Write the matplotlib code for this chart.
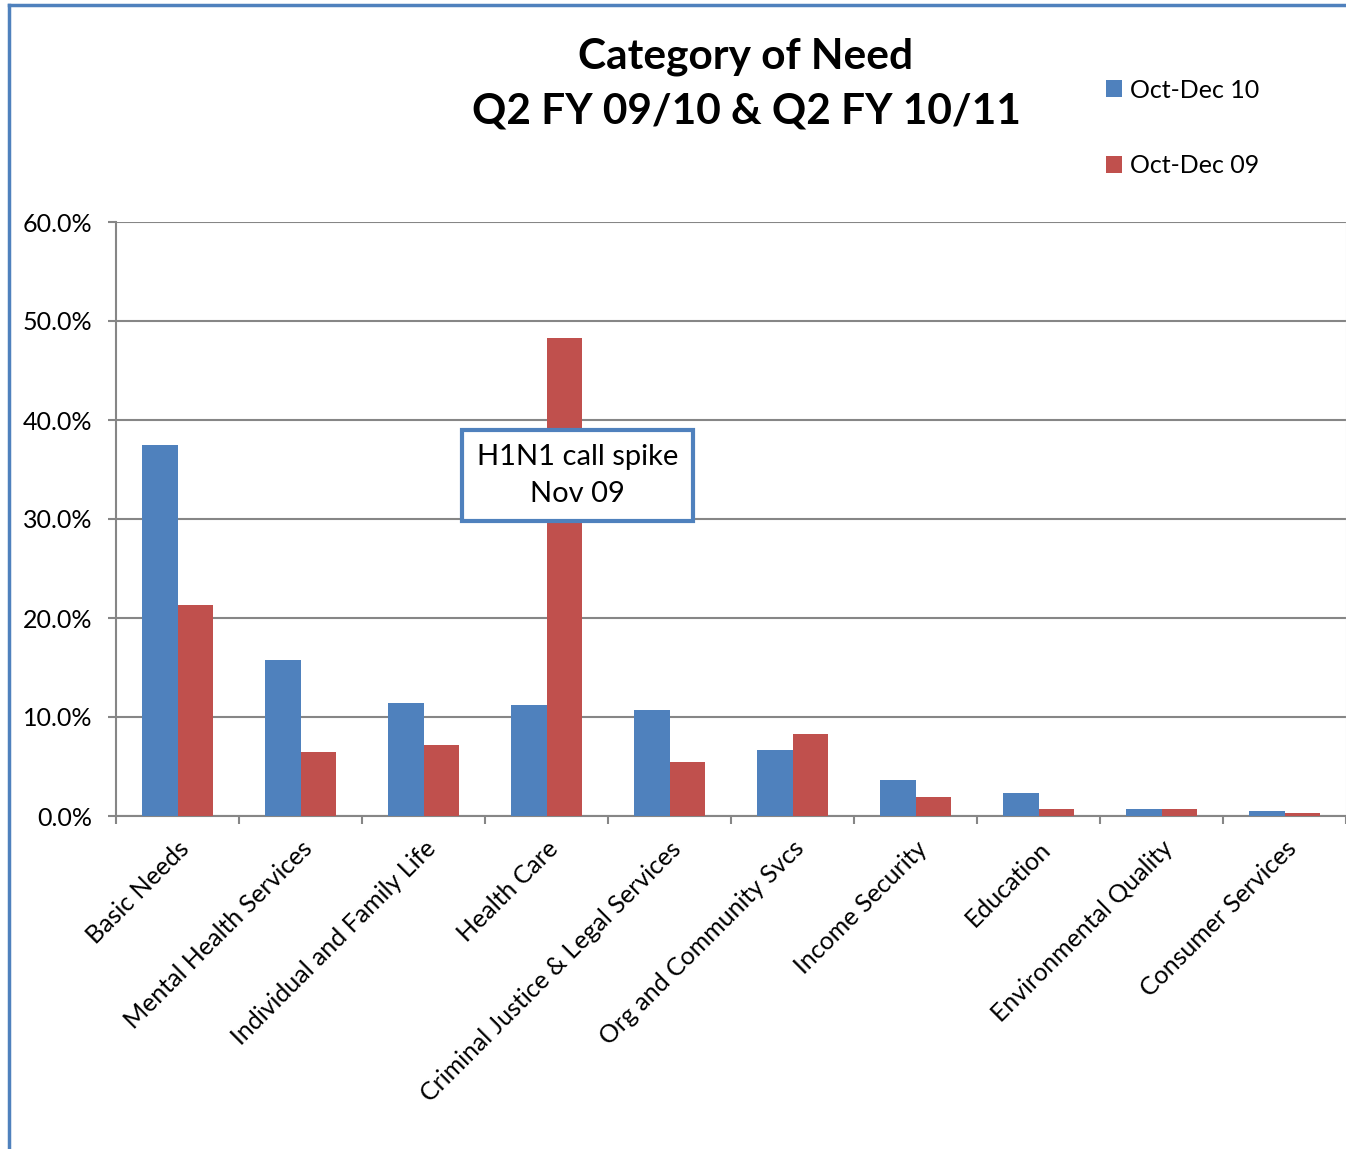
import numpy as np
import matplotlib
matplotlib.use("Agg")
import matplotlib.pyplot as plt
from matplotlib.lines import Line2D
from matplotlib.ticker import PercentFormatter, FixedLocator

plt.rcParams['font.family'] = ['Lato', 'DejaVu Sans']

categories = ['Basic Needs', 'Mental Health Services', 'Individual and Family Life',
              'Health Care', 'Criminal Justice & Legal Services', 'Org and Community Svcs',
              'Income Security', 'Education', 'Environmental Quality', 'Consumer Services']
oct_dec_10 = [37.5, 15.8, 11.4, 11.2, 10.7, 6.7, 3.6, 2.3, 0.7, 0.5]
oct_dec_09 = [21.3, 6.5, 7.2, 48.3, 5.5, 8.3, 1.9, 0.7, 0.7, 0.3]

BLUE = '#4F81BD'
RED = '#C0504D'
GRID = '#868686'

fig = plt.figure(figsize=(13.46, 11.49), dpi=100)
ax = fig.add_axes([116 / 1346, 1 - 816 / 1149, 1 - 116 / 1346, (816 - 222) / 1149])

x = np.arange(len(categories))
w = 0.285
ax.bar(x - w / 2, oct_dec_10, w, color=BLUE, label='Oct-Dec 10', zorder=3)
ax.bar(x + w / 2, oct_dec_09, w, color=RED, label='Oct-Dec 09', zorder=3)

ax.set_xlim(-0.5, len(categories) - 0.5)
ax.set_ylim(0, 60)
ax.set_yticks(np.arange(0, 61, 10))
ax.yaxis.set_major_formatter(PercentFormatter(decimals=1))
ax.grid(axis='y', color=GRID, linewidth=1.5, zorder=0)

ax.set_xticks(x)
ax.set_xticklabels(categories, rotation=45, ha='right', va='top',
                   rotation_mode='anchor', fontsize=18)
ax.tick_params(axis='x', length=0, pad=15)
ax.xaxis.set_minor_locator(FixedLocator(np.arange(-0.5, len(categories), 1)))
ax.tick_params(axis='x', which='minor', length=6, width=1.5, color=GRID)
ax.tick_params(axis='y', length=6, width=1.5, color=GRID, labelsize=18, pad=11)

ax.spines['top'].set_visible(False)
ax.spines['right'].set_color('#D0D0D0')
for s in ['left', 'bottom']:
    ax.spines[s].set_color(GRID)
    ax.spines[s].set_linewidth(1.5)

ax.text(3.25, 34.4, 'H1N1 call spike\nNov 09', ha='center', va='center',
        fontsize=21, linespacing=1.5, zorder=5,
        bbox=dict(boxstyle='square,pad=0.5', facecolor='white',
                  edgecolor=BLUE, linewidth=3))

fig.text(746 / 1346, 1 - 84 / 1149, 'Category of Need\nQ2 FY 09/10 & Q2 FY 10/11',
         ha='center', va='center', fontsize=30.5, fontweight='bold', linespacing=1.55)

fig.legend(loc='upper left', bbox_to_anchor=(1083 / 1346, 1 - 56 / 1149),
           frameon=False, fontsize=18, handlelength=0.65, handleheight=0.65,
           handletextpad=0.35, labelspacing=2.1)

# chart frame
fig.add_artist(Line2D([9 / 1346, 9 / 1346], [0, 1 - 5 / 1149], color=BLUE, linewidth=2.5,
                      transform=fig.transFigure))
fig.add_artist(Line2D([9 / 1346, 1], [1 - 5 / 1149, 1 - 5 / 1149], color=BLUE, linewidth=2.5,
                      transform=fig.transFigure))

fig.savefig('out.png', dpi=100)
